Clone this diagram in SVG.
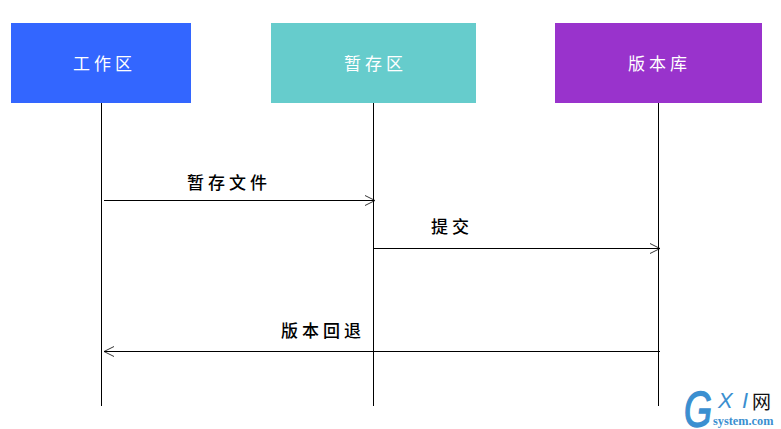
<svg xmlns="http://www.w3.org/2000/svg" width="781" height="429" viewBox="0 0 781 429">
  <style>
    .lane { stroke: #000; stroke-width: 1; fill: none; }
    .msg { stroke: #000; stroke-width: 1; fill: none; }
    .head { stroke: #000; stroke-width: 0.8; fill: none; }
    .t { font-family: "Noto Sans CJK SC", "Noto Sans CJK TC", sans-serif; font-size: 17px; letter-spacing: 4px; }
    .w { fill: #fff; }
    .k { fill: #000; font-weight: 500; }
    .brand { fill: #3b8fd0; font-family: "Liberation Sans", sans-serif; font-style: italic; }
  </style>
  <rect width="781" height="429" fill="#fff"/>
  <g id="connectors">
    <path class="lane" d="M101.5 103V406"/>
    <path class="lane" d="M373.5 103V406"/>
    <path class="lane" d="M658.5 103V406"/>
    <path class="msg" d="M104 200.500H374"/>
    <path class="head" d="M365 195.500L375 200.500L365 205.500"/>
    <path class="msg" d="M374 248.500H660"/>
    <path class="head" d="M650 243.500L660 248.500L650 253.500"/>
    <path class="msg" d="M660 351.500H104"/>
    <path class="head" d="M114 346.500L104 351.500L114 356.500"/>
  </g>
  <g id="workspace">
    <rect x="11" y="23" width="180" height="80" fill="#3366ff"/>
    <text class="t w" x="73" y="70">工作区</text>
  </g>
  <g id="stage">
    <rect x="271" y="23" width="205" height="80" fill="#66cccc"/>
    <text class="t w" x="344" y="70">暂存区</text>
  </g>
  <g id="repository">
    <rect x="555" y="23" width="207" height="80" fill="#9933cc"/>
    <text class="t w" x="628" y="70">版本库</text>
  </g>
  <g id="labels">
    <text class="t k" x="187" y="189">暂存文件</text>
    <text class="t k" x="431" y="233">提交</text>
    <text class="t k" x="281" y="337">版本回退</text>
  </g>
  <g id="logo">
    <text class="brand" transform="translate(684 427) scale(0.72 1)" font-size="50" stroke="#3b8fd0" stroke-width="1.500">G</text>
    <text class="brand" x="718" y="408" font-size="22">X</text>
    <text class="brand" x="742" y="408" font-size="22">I</text>
    <text x="752" y="409" font-family="Noto Sans CJK SC, sans-serif" font-size="19" fill="#111">网</text>
    <text x="713" y="425" font-family="Liberation Serif, serif" font-weight="bold" font-size="12.300" fill="#3b8fd0">system.com</text>
  </g>
</svg>
